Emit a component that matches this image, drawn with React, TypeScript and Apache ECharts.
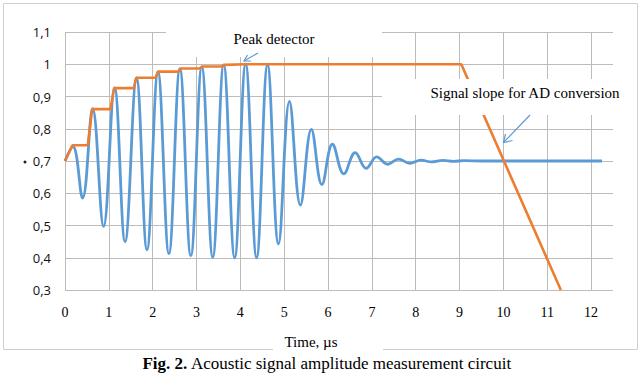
import React, { useEffect, useRef } from 'react';
import * as echarts from 'echarts';

// Acoustic signal (blue): time in µs, amplitude
const signalTime = [
  0, 0.18, 0.4, 0.63, 0.88, 1.13, 1.37, 1.63, 1.87, 2.12, 2.37, 2.62, 2.87, 3.12, 3.37, 3.62,
  3.87, 4.12, 4.37, 4.62, 4.87, 5.12, 5.37, 5.62, 5.86, 6.1, 6.36, 6.62, 6.87, 7.11, 7.36,
  7.61, 7.86, 8.12, 8.36, 8.62, 8.86, 9.1, 9.5, 12.25,
];
const signalAmp = [
  0.7, 0.745, 0.585, 0.862, 0.497, 0.927, 0.45, 0.958, 0.425, 0.976, 0.413, 0.986, 0.406, 0.992, 0.402, 0.998,
  0.4, 1.0, 0.4, 0.998, 0.443, 0.885, 0.563, 0.798, 0.627, 0.752, 0.66, 0.726, 0.677, 0.713, 0.69,
  0.706, 0.693, 0.703, 0.697, 0.702, 0.699, 0.701, 0.7, 0.7,
];

// Peak detector output (orange)
const peakTime = [
  0, 0.17, 0.52, 0.62, 1.04, 1.12, 1.57, 1.63, 2.07, 2.12, 2.59, 2.65, 3.07, 3.13, 3.57, 3.64, 4.12, 9.04, 11.31,
];
const peakAmp = [
  0.7, 0.749, 0.749, 0.861, 0.861, 0.926, 0.926, 0.958, 0.958, 0.977, 0.977, 0.987, 0.987, 0.993, 0.993, 0.998, 1.0, 1.0, 0.3,
];

const xRange = [0, 12.5];
const yRange = [0.3, 1.1];

const BLUE = '#5B9BD5';
const ORANGE = '#ED7D31';
const GRID = '#bcbcbc';
const SERIF = 'Liberation Serif';
const SANS = 'Open Sans';

export default function App() {
  const ref = useRef<HTMLDivElement>(null);

  useEffect(() => {
    if (!ref.current) return;
    const chart = echarts.init(ref.current, undefined, { renderer: 'svg' });
    const signal = signalTime.map((t, i) => [t, signalAmp[i]]);
    const peak = peakTime.map((t, i) => [t, peakAmp[i]]);

    const arrow1Tail = [258, 53];
    const arrow1Tip = [244, 61];
    const arrow2Tail = [530, 115];
    const arrow2Tip = [503.5, 142.5];

    chart.setOption({
      animation: false,
      backgroundColor: '#ffffff',
      grid: { left: 65, right: 27, top: 32, bottom: 83, containLabel: false },
      xAxis: {
        type: 'value',
        min: xRange[0],
        max: xRange[1],
        interval: 1,
        axisLine: { show: false },
        axisTick: { show: false },
        axisLabel: {
          margin: 15,
          color: '#000',
          fontFamily: SERIF,
          fontSize: 14,
          showMaxLabel: false,
          formatter: (v: number) => (Number.isInteger(v) ? String(v) : ''),
        },
        splitLine: { show: true, showMaxLine: false, lineStyle: { color: GRID, width: 1 } },
      },
      yAxis: {
        type: 'value',
        min: yRange[0],
        max: yRange[1],
        interval: 0.1,
        axisLine: { show: false },
        axisTick: { show: false },
        axisLabel: {
          margin: 14,
          color: '#111',
          fontFamily: SANS,
          fontSize: 13,
          formatter: (v: number) =>
            Math.abs(v - 1) < 1e-9 ? '1' : (Math.round(v * 10) / 10).toFixed(1).replace('.', ','),
        },
        splitLine: { show: true, lineStyle: { color: GRID, width: 1 } },
      },
      series: [
        {
          type: 'line',
          name: 'Signal',
          data: signal,
          smooth: 0.4,
          showSymbol: false,
          symbol: 'none',
          lineStyle: { color: BLUE, width: 2.8 },
          z: 3,
        },
        {
          type: 'line',
          name: 'Peak detector',
          data: peak,
          showSymbol: false,
          symbol: 'none',
          lineStyle: { color: ORANGE, width: 2.6 },
          z: 4,
        },
      ],
      graphic: {
        elements: [
          {
            type: 'rect',
            z: 1,
            shape: { x: 3.5, y: 3.5, width: 634, height: 346 },
            style: { fill: 'none', stroke: '#cfcfcf', lineWidth: 1 },
          },
          {
            type: 'rect',
            z: 50,
            shape: { x: 166, y: 22, width: 216, height: 35 },
            style: { fill: '#ffffff' },
          },
          {
            type: 'rect',
            z: 50,
            shape: { x: 382, y: 79, width: 254, height: 36 },
            style: { fill: '#ffffff' },
          },
          {
            type: 'rect',
            z: 50,
            shape: { x: 273, y: 331, width: 110, height: 24 },
            style: { fill: '#ffffff' },
          },
          {
            type: 'text',
            z: 60,
            style: {
              text: 'Peak detector',
              x: 274,
              y: 39,
              fill: '#000',
              font: '15px "Liberation Serif"',
              textAlign: 'center',
              textVerticalAlign: 'middle',
            },
          },
          {
            type: 'text',
            z: 60,
            style: {
              text: 'Signal slope for AD conversion',
              x: 525,
              y: 93,
              fill: '#000',
              font: '15px "Liberation Serif"',
              textAlign: 'center',
              textVerticalAlign: 'middle',
            },
          },
          {
            type: 'text',
            z: 60,
            style: {
              text: 'Time, µs',
              x: 311,
              y: 342,
              fill: '#000',
              font: '15px "Liberation Serif"',
              textAlign: 'center',
              textVerticalAlign: 'middle',
            },
          },
          {
            type: 'line',
            z: 60,
            shape: { x1: arrow1Tail[0], y1: arrow1Tail[1], x2: arrow1Tip[0], y2: arrow1Tip[1] },
            style: { stroke: BLUE, lineWidth: 1.2 },
          },
          {
            type: 'polyline',
            z: 60,
            shape: { points: [[247.5, 55], arrow1Tip, [251, 61]] },
            style: { stroke: BLUE, lineWidth: 1.2, fill: 'none' },
          },
          {
            type: 'line',
            z: 60,
            shape: { x1: arrow2Tail[0], y1: arrow2Tail[1], x2: arrow2Tip[0], y2: arrow2Tip[1] },
            style: { stroke: BLUE, lineWidth: 1.2 },
          },
          {
            type: 'polyline',
            z: 60,
            shape: { points: [[505.5, 134], arrow2Tip, [512.5, 140.5]] },
            style: { stroke: BLUE, lineWidth: 1.2, fill: 'none' },
          },
          {
            type: 'circle',
            z: 60,
            shape: { cx: 25, cy: 162, r: 1.5 },
            style: { fill: '#222' },
          },
          {
            type: 'text',
            z: 60,
            style: {
              text: '{b|Fig. 2.} Acoustic signal amplitude measurement circuit',
              x: 327,
              y: 372,
              fill: '#000',
              font: '17px "Liberation Serif"',
              textAlign: 'center',
              textVerticalAlign: 'bottom',
              rich: {
                b: { fontFamily: SERIF, fontSize: 17, fontWeight: 'bold', fill: '#000' },
              },
            },
          },
        ],
      },
    });

    return () => chart.dispose();
  }, []);

  return (
    <div
      ref={ref}
      style={{ position: 'absolute', left: 0, top: 0, width: 640, height: 373, background: '#fff' }}
    />
  );
}
